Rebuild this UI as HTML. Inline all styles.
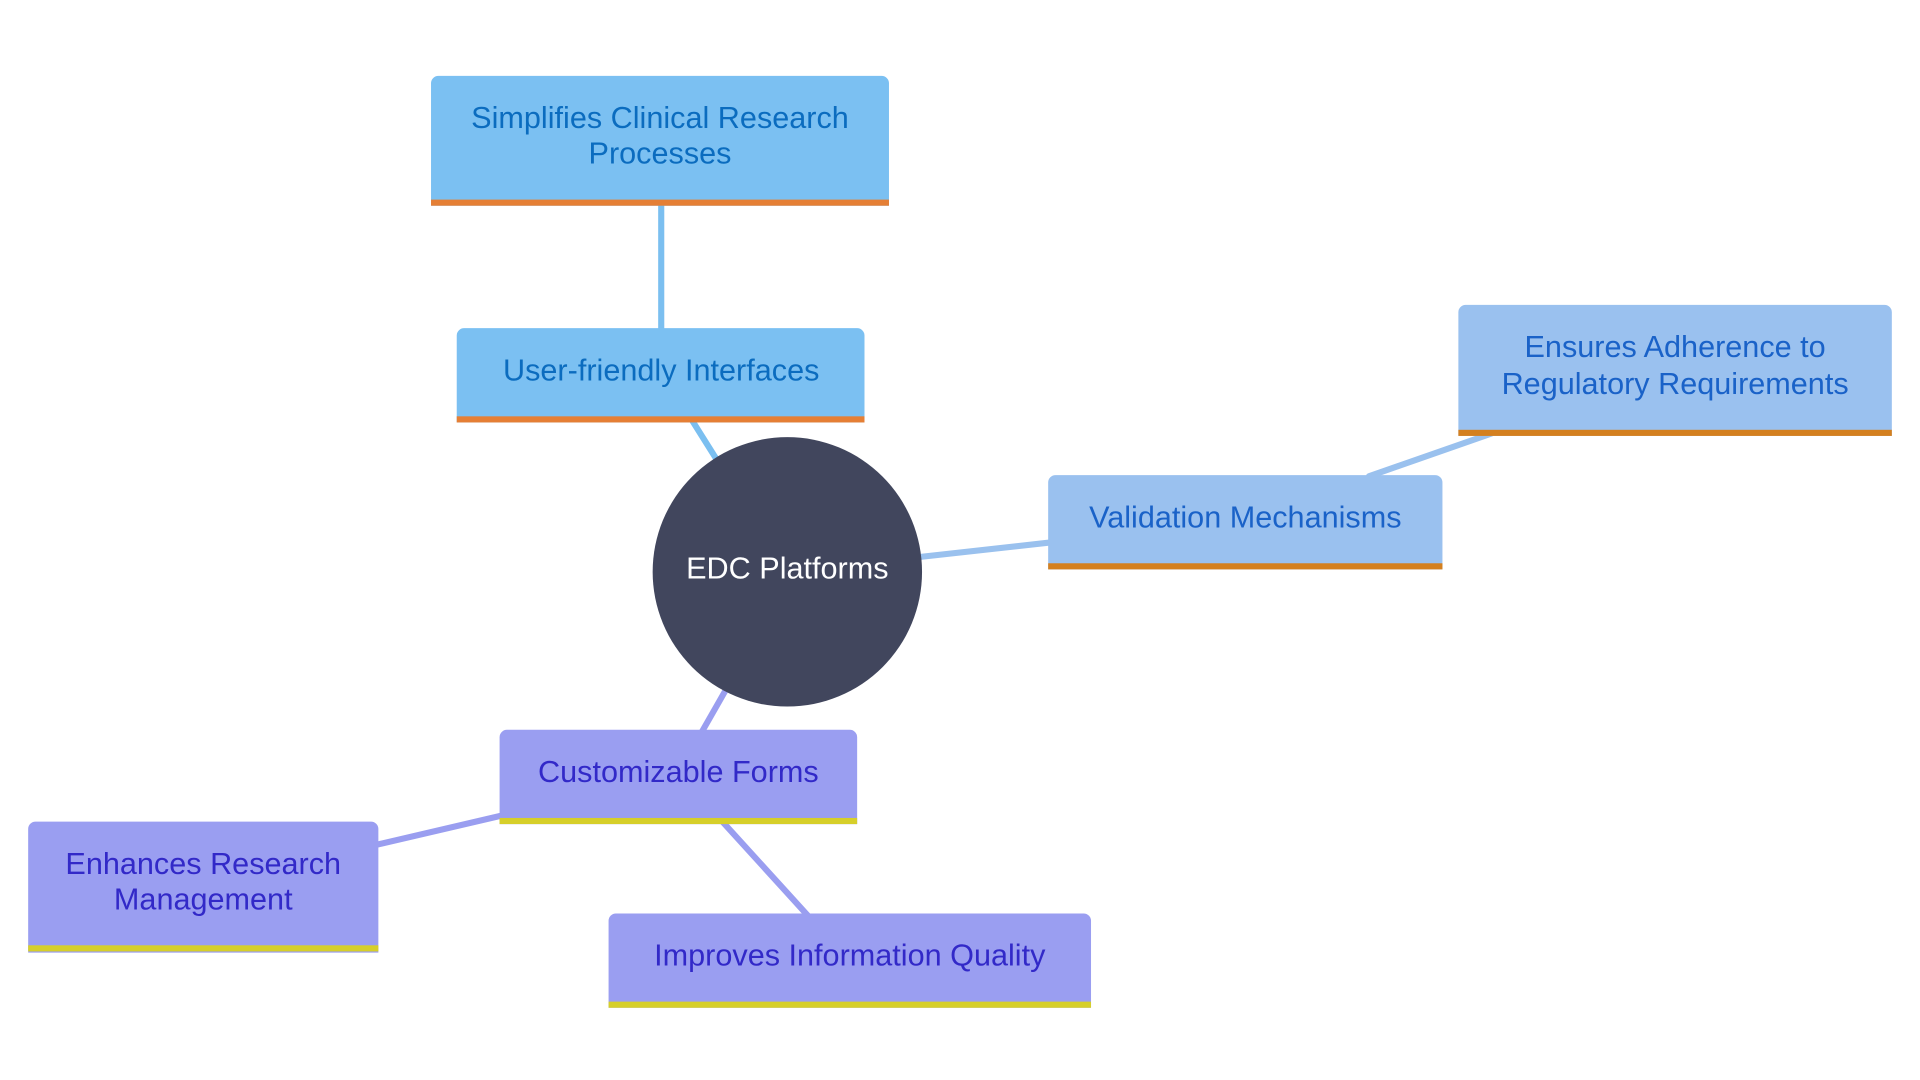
<!DOCTYPE html>
<html><head><meta charset="utf-8"><style>
html,body{margin:0;padding:0;background:#fff;width:1920px;height:1080px;overflow:hidden}
svg{display:block}
text{font-family:"Liberation Sans",sans-serif;font-size:25px;text-anchor:middle;dominant-baseline:middle}
</style></head><body>
<svg width="1920" height="1080" viewBox="0 0 1568 882" xmlns="http://www.w3.org/2000/svg">
<g stroke-width="5" stroke-linecap="round" fill="none">
<line x1="540" y1="165" x2="540" y2="270" stroke="#7bbff0"/>
<line x1="565" y1="343" x2="587" y2="378" stroke="#7bbff0"/>
<line x1="750" y1="455" x2="858" y2="443" stroke="#9ac1ee"/>
<line x1="1118" y1="389" x2="1218" y2="354" stroke="#9ac1ee"/>
<line x1="593" y1="563" x2="573" y2="598" stroke="#9a9ef0"/>
<line x1="410" y1="666" x2="307" y2="690" stroke="#9a9ef0"/>
<line x1="590" y1="671" x2="660" y2="748" stroke="#9a9ef0"/>
</g>
<!-- Simplifies -->
<path d="M352 68a6 6 0 0 1 6-6h362a6 6 0 0 1 6 6v100h-374z" fill="#7bc0f2"/>
<rect x="352" y="163" width="374" height="5" fill="#e57f35"/>
<text x="539" y="98" fill="#0b6cbf">Simplifies Clinical Research</text>
<text x="539" y="127" fill="#0b6cbf">Processes</text>
<!-- User-friendly -->
<path d="M373 274a6 6 0 0 1 6-6h321a6 6 0 0 1 6 6v71h-333z" fill="#7bc0f2"/>
<rect x="373" y="340" width="333" height="5" fill="#e57f35"/>
<text x="540" y="304" fill="#0b6cbf">User-friendly Interfaces</text>
<!-- circle -->
<circle cx="643" cy="467" r="110" fill="#41465d"/>
<text x="643" y="466" fill="#ffffff">EDC Platforms</text>
<!-- Validation -->
<path d="M856 394a6 6 0 0 1 6-6h310a6 6 0 0 1 6 6v71h-322z" fill="#9ac1ef"/>
<rect x="856" y="460" width="322" height="5" fill="#d4801f"/>
<text x="1017" y="424" fill="#1a62c8">Validation Mechanisms</text>
<!-- Ensures -->
<path d="M1191 255a6 6 0 0 1 6-6h342a6 6 0 0 1 6 6v101h-354z" fill="#9ac1ef"/>
<rect x="1191" y="351" width="354" height="5" fill="#d4801f"/>
<text x="1368" y="285" fill="#1a62c8">Ensures Adherence to</text>
<text x="1368" y="315" fill="#1a62c8">Regulatory Requirements</text>
<!-- Customizable -->
<path d="M408 602a6 6 0 0 1 6-6h280a6 6 0 0 1 6 6v71h-292z" fill="#9a9ef1"/>
<rect x="408" y="668" width="292" height="5" fill="#d6cf2a"/>
<text x="554" y="632" fill="#3229c8">Customizable Forms</text>
<!-- Enhances -->
<path d="M23 677a6 6 0 0 1 6-6h274a6 6 0 0 1 6 6v101h-286z" fill="#9a9ef1"/>
<rect x="23" y="772" width="286" height="5" fill="#d6cf2a"/>
<text x="166" y="707" fill="#3229c8">Enhances Research</text>
<text x="166" y="736" fill="#3229c8">Management</text>
<!-- Improves -->
<path d="M497 752a6 6 0 0 1 6-6h382a6 6 0 0 1 6 6v71h-394z" fill="#9a9ef1"/>
<rect x="497" y="818" width="394" height="5" fill="#d6cf2a"/>
<text x="694" y="782" fill="#3229c8">Improves Information Quality</text>
</svg>
</body></html>
